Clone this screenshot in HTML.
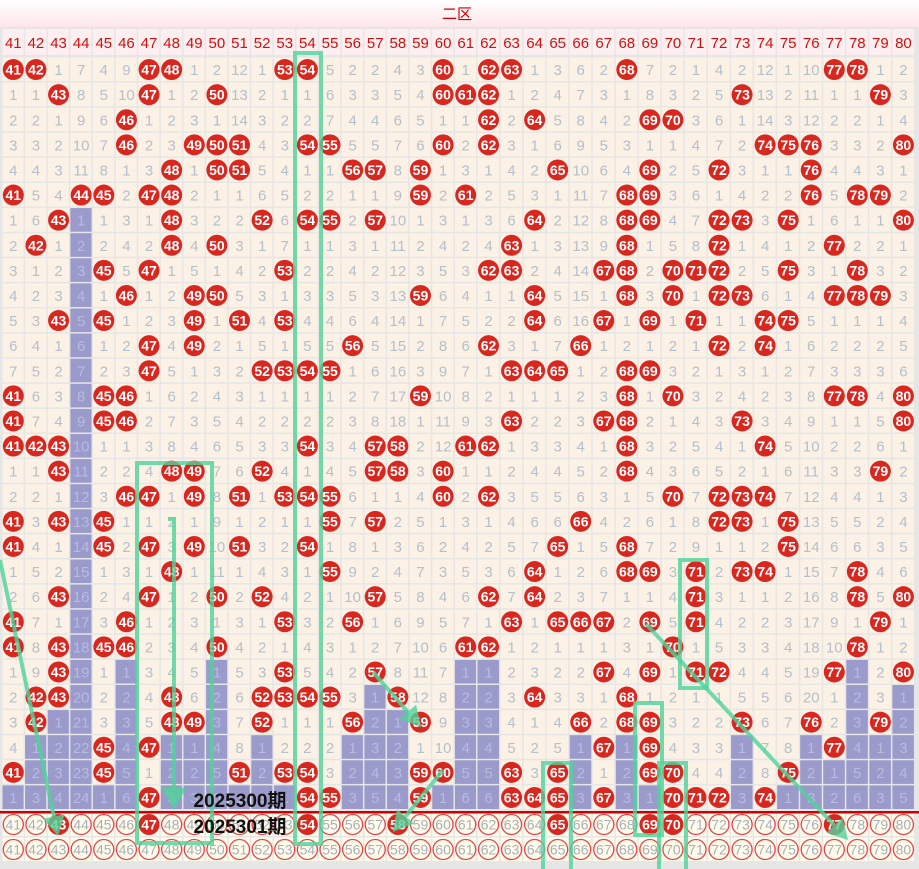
<!DOCTYPE html>
<html><head><meta charset="utf-8">
<style>
html,body{margin:0;padding:0;background:#fff;width:919px;height:869px;overflow:hidden}
svg{display:block}
</style></head>
<body>
<svg id="s" width="919" height="869" xmlns="http://www.w3.org/2000/svg" font-family="Liberation Sans, Noto Sans CJK SC, sans-serif"></svg>
<script>
var hits=[
[41,42,47,48,53,54,60,62,63,68,77,78],
[43,47,50,60,61,62,73,79],
[46,62,64,69,70],
[46,49,50,51,54,55,60,62,74,75,76,80],
[48,50,51,56,57,59,65,69,72,76],
[41,44,45,47,48,59,61,68,69,76,78,79],
[43,48,52,54,55,57,64,68,69,72,73,75,80],
[42,48,50,63,68,72,77],
[45,47,53,62,63,67,68,70,71,72,75,78],
[46,49,50,59,64,68,70,72,73,77,78,79],
[43,45,49,51,53,64,67,69,71,74,75],
[47,49,56,62,66,72,74],
[47,52,53,54,55,63,64,65,68,69],
[41,45,46,59,68,70,77,78,80],
[41,45,46,63,67,68,73,80],
[41,42,43,54,57,58,61,62,68,74],
[43,48,49,52,57,58,60,68,79],
[46,47,49,51,53,54,55,60,62,70,72,73,74],
[41,43,45,55,57,66,72,73,75],
[41,45,47,49,51,54,65,68,75],
[48,55,64,68,69,71,73,74,78],
[43,47,50,52,57,62,64,71,78,80],
[41,46,53,56,63,65,66,67,69,71,79],
[41,43,45,46,50,61,62,70,78],
[43,53,57,67,69,71,72,77,80],
[42,43,48,52,53,54,55,58,64,68],
[42,48,49,52,56,59,66,68,69,73,76,79],
[45,47,67,69,77],
[41,45,51,53,54,59,60,63,65,69,70,75],
[47,54,55,59,63,64,65,67,70,71,72,74]];
var first=[41,42,1,7,4,9,47,48,1,2,12,1,53,54,5,2,2,4,3,60,1,62,63,1,3,6,2,68,7,2,1,4,2,12,1,10,77,78,1,2];
var pred=[43,47,54,58,65,69,70,77];
function cx0(i){return i<21?2+i*22.62:477+(i-21)*23.05;}
function cw(i){return i<21?22.62:23.05;}
var RT=57,RH=25.1;
var o=[];
o.push('<defs><linearGradient id="g" x1="0" y1="0" x2="0" y2="1"><stop offset="0" stop-color="#ffffff"/><stop offset="1" stop-color="#fde6e9"/></linearGradient></defs>');
o.push('<rect x="0" y="0" width="919" height="27" fill="url(#g)"/>');
o.push('<text x="457" y="19" font-size="15" fill="#cc0000" text-anchor="middle">二区</text>');
o.push('<rect x="0" y="27" width="919" height="842" fill="#e6e6e6"/>');
for(var i=0;i<40;i++){
 var x=cx0(i),w=cw(i);
 o.push('<rect x="'+(x+0.5)+'" y="29" width="'+(w-1.5)+'" height="26" fill="#fdeef0"/>');
 o.push('<text x="'+(x+w/2)+'" y="48" font-size="15" fill="#cc1111" text-anchor="middle">'+(41+i)+'</text>');
}
var vals=[],isHit=[];
for(var r=0;r<30;r++){vals.push([]);isHit.push([]);
 for(var i=0;i<40;i++){var n=41+i;var h=hits[r].indexOf(n)>=0;isHit[r].push(h);
  if(h)vals[r].push(n);else if(r==0)vals[r].push(first[i]);else vals[r].push(isHit[r-1][i]?1:vals[r-1][i]+1);}}
for(var r=0;r<30;r++){
 var y=RT+r*RH;
 for(var i=0;i<40;i++){
  var x=cx0(i),w=cw(i),n=41+i;
  var purple=true;for(var k=r;k<30;k++)if(isHit[k][i]){purple=false;break;}
  o.push('<rect x="'+(x+0.5)+'" y="'+(y+0.5)+'" width="'+(w-1.5)+'" height="'+(RH-1.5)+'" fill="'+(purple?'#9a9acb':'#fbf1e5')+'"/>');
  var cx=x+w/2,cy=y+RH/2;
  if(isHit[r][i]){
   o.push('<circle cx="'+cx+'" cy="'+cy+'" r="10.5" fill="#d8271f"/>');
   o.push('<text x="'+cx+'" y="'+(cy+5)+'" font-size="14" font-weight="bold" fill="#fff" text-anchor="middle">'+n+'</text>');
  }else{
   o.push('<text x="'+cx+'" y="'+(cy+5.5)+'" font-size="15" fill="'+(purple?'#b7bce0':'#b4c0cc')+'" text-anchor="middle">'+vals[r][i]+'</text>');
  }
 }
}
for(var b=0;b<2;b++){
 var y=812+b*25;
 for(var i=0;i<40;i++){
  var x=cx0(i),w=cw(i),n=41+i,cx=x+w/2,cy=y+12.5;
  o.push('<rect x="'+(x+0.5)+'" y="'+(y+0.5)+'" width="'+(w-1.5)+'" height="23.5" fill="#fffbea"/>');
  if(b==0&&pred.indexOf(n)>=0){
   o.push('<circle cx="'+cx+'" cy="'+cy+'" r="10.5" fill="#d8271f"/>');
   o.push('<text x="'+cx+'" y="'+(cy+5)+'" font-size="14" font-weight="bold" fill="#fff" text-anchor="middle">'+n+'</text>');
  }else{
   o.push('<circle cx="'+cx+'" cy="'+cy+'" r="10" fill="none" stroke="#e0464a" stroke-width="1.3"/>');
   o.push('<text x="'+cx+'" y="'+(cy+5)+'" font-size="14" fill="#a8b0bb" text-anchor="middle">'+n+'</text>');
  }
 }
}
o.push('<rect x="0" y="811" width="919" height="2.5" fill="#cc0000"/>');
var G='stroke="#4fd39a" stroke-opacity="0.8" stroke-width="4" fill="none"';
o.push('<rect x="295" y="53" width="26" height="791" '+G+'/>');
o.push('<rect x="137" y="463" width="75" height="380" '+G+'/>');
o.push('<polyline points="168,519 174,519 174,790" '+G+'/>');
o.push('<polygon points="162,788 186,788 174,810" fill="#4fd39a" fill-opacity="0.8"/>');
o.push('<rect x="680" y="560" width="27" height="128" '+G+'/>');
o.push('<rect x="635" y="703" width="27" height="132" '+G+'/>');
o.push('<polyline points="659,871 659,763 686,763 686,871" '+G+'/>');
o.push('<polyline points="543,871 543,763 571,763 571,871" '+G+'/>');
function arrow(x1,y1,x2,y2){
 var a=Math.atan2(y2-y1,x2-x1),L=20,wd=11;
 var bx=x2-L*Math.cos(a),by=y2-L*Math.sin(a);
 o.push('<line x1="'+x1+'" y1="'+y1+'" x2="'+bx+'" y2="'+by+'" '+G+'/>');
 o.push('<polygon points="'+x2+','+y2+' '+(bx+wd*Math.sin(a))+','+(by-wd*Math.cos(a))+' '+(bx-wd*Math.sin(a))+','+(by+wd*Math.cos(a))+'" fill="#4fd39a" fill-opacity="0.8"/>');
}
arrow(0,560,58,836);
arrow(373,672,421,727);
arrow(443,770,393,832);
arrow(646,624,848,840);
o.push('<text x="240" y="807" font-size="19" font-weight="bold" fill="#111" text-anchor="middle">2025300期</text>');
o.push('<text x="240" y="833" font-size="19" font-weight="bold" fill="#111" text-anchor="middle">2025301期</text>');
document.getElementById('s').innerHTML=o.join('');
</script>
</body></html>
